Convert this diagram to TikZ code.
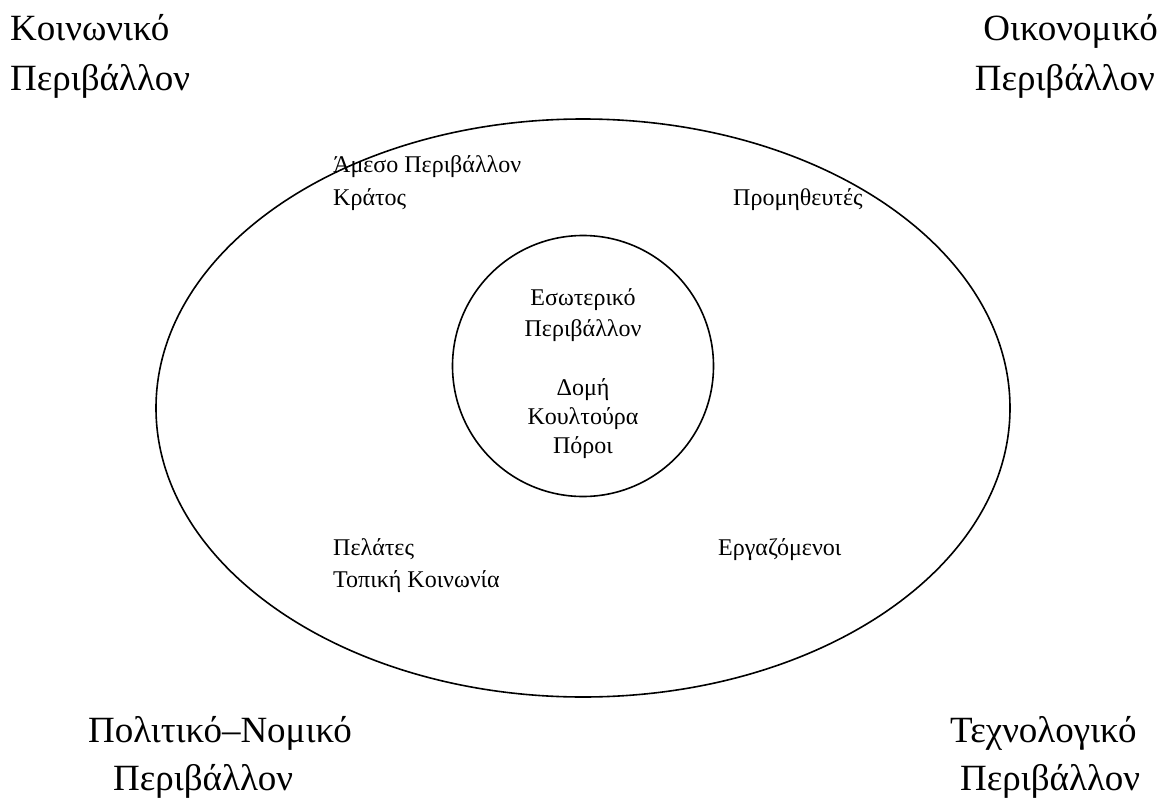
\documentclass[tikz,border=0pt]{standalone}
\usepackage{fontspec}
\setmainfont{Liberation Serif}
\usepackage{tikz}
\usetikzlibrary{positioning}
\usetikzlibrary{shapes.geometric}

\tikzset{
  bigtext/.style={font=\fontsize{37}{50}\selectfont, inner sep=0pt, anchor=base west},
  smalltext/.style={font=\fontsize{24}{29}\selectfont, inner sep=0pt, anchor=base west},
  ring/.style={draw, line width=1.6pt, inner sep=0pt}
}

\begin{document}
\begin{tikzpicture}[x=1pt, y=-1pt]
\useasboundingbox (0,0) rectangle (1163,798);

\node[ring, ellipse, minimum width=854pt, minimum height=578pt] (outer) at (583,408) {};
\node[ring, circle, minimum size=261pt] (inner) at (583,366) {};

% corner environments
\node[bigtext] (soc1) at (10,40) {Κοινωνικό};
\node[bigtext] (soc2) at (10,90) {Περιβάλλον};
\node[bigtext, anchor=base east] (eco1) at (1158,40) {Οικονομικό};
\node[bigtext, anchor=base east] (eco2) at (1155,90) {Περιβάλλον};
\node[bigtext] (pol1) at (88,742) {Πολιτικό–Νομικό};
\node[bigtext] (pol2) at (113,790) {Περιβάλλον};
\node[bigtext] (tech1) at (950,742) {Τεχνολογικό};
\node[bigtext] (tech2) at (960,790) {Περιβάλλον};

% direct environment
\node[smalltext] (dir) at (333,172) {Άμεσο Περιβάλλον};
\node[smalltext] (state) at (333,205) {Κράτος};
\node[smalltext] (supp) at (733,205) {Προμηθευτές};
\node[smalltext] (cust) at (333,555) {Πελάτες};
\node[smalltext] (comm) at (333,587) {Τοπική Κοινωνία};
\node[smalltext] (empl) at (718,555) {Εργαζόμενοι};

% internal environment
\node[smalltext, anchor=base] (int1) at (583,305) {Εσωτερικό};
\node[smalltext, anchor=base] (int2) at (583,336) {Περιβάλλον};
\node[smalltext, anchor=base] (res1) at (583,395) {Δομή};
\node[smalltext, anchor=base] (res2) at (583,424) {Κουλτούρα};
\node[smalltext, anchor=base] (res3) at (583,453) {Πόροι};
\end{tikzpicture}
\end{document}
